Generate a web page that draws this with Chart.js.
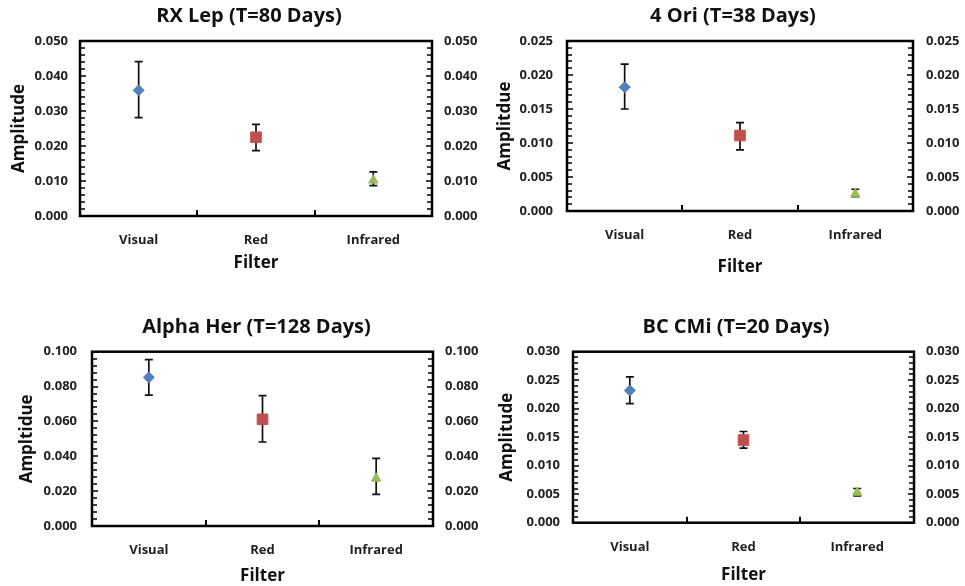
<!DOCTYPE html>
<html><head><meta charset="utf-8">
<script src="https://cdn.jsdelivr.net/npm/chart.js@4.4.0/dist/chart.umd.min.js"></script>
<style>
html,body{margin:0;padding:0;background:#fff;width:965px;height:586px;overflow:hidden;position:relative}
canvas{position:absolute}
</style></head><body>
<canvas id="c1"></canvas><canvas id="c2"></canvas><canvas id="c3"></canvas><canvas id="c4"></canvas>
<script>
// ---- data ----
const categories = ['Visual', 'Red', 'Infrared'];
const chartTitles = ['RX Lep (T=80 Days)', '4 Ori (T=38 Days)', 'Alpha Her (T=128 Days)', 'BC CMi (T=20 Days)'];
const yAxisTitles = ['Amplitude', 'Amplitdue', 'Ampltidue', 'Amplitude'];
const xAxisTitle = 'Filter';

const rxLepAmp  = [0.0359, 0.0225, 0.0102];
const rxLepLow  = [0.0281, 0.0187, 0.0087];
const rxLepHigh = [0.0441, 0.0262, 0.0126];

const oriAmp  = [0.0182, 0.0111, 0.0025];
const oriLow  = [0.0150, 0.0090, 0.0021];
const oriHigh = [0.0216, 0.0130, 0.0032];

const alphaHerAmp  = [0.0853, 0.0612, 0.0273];
const alphaHerLow  = [0.0751, 0.0482, 0.0182];
const alphaHerHigh = [0.0954, 0.0748, 0.0388];

const bcCmiAmp  = [0.0232, 0.0145, 0.0053];
const bcCmiLow  = [0.0209, 0.0131, 0.0047];
const bcCmiHigh = [0.0256, 0.0160, 0.0060];

const yMaxes = [0.05, 0.025, 0.1, 0.03];
const yMajorSteps = [0.01, 0.005, 0.02, 0.005];
const yMinorSteps = [0.002, 0.001, 0.004, 0.001];

// ---- styles / layout ----
const markerStyles = ['rectRot', 'rect', 'triangle'];
const markerColors = ['#4f81bd', '#c0504d', '#9bbb59'];
const FONT = '"Open Sans", "Liberation Sans", sans-serif';
const TEXT = '#222';

const layouts = [
  {id:'c1', L:0,   T:0,   W:498, H:293, yW:80, y2W:66, yPad:12, y2Pad:12, yTitlePad:8.8, tTop:4,    tBot:13,   xH:60, xPad:16, xTitlePad:2.8, padB:17},
  {id:'c2', L:490, T:0,   W:486, H:293, yW:77, y2W:63, yPad:14, y2Pad:13, yTitlePad:5.3, tTop:4.7,  tBot:12.3, xH:66, xPad:16, xTitlePad:0,   padB:16},
  {id:'c3', L:0,   T:300, W:513, H:286, yW:92, y2W:80, yPad:15, y2Pad:12, yTitlePad:17.3,tTop:15,   tBot:12.7, xH:60, xPad:16, xTitlePad:0,   padB:0},
  {id:'c4', L:490, T:300, W:492, H:286, yW:83, y2W:68, yPad:13, y2Pad:12, yTitlePad:7.3, tTop:15.5, tBot:12.2, xH:63, xPad:17, xTitlePad:0.5, padB:0.3}
];

const series = [
  [rxLepAmp, rxLepLow, rxLepHigh],
  [oriAmp, oriLow, oriHigh],
  [alphaHerAmp, alphaHerLow, alphaHerHigh],
  [bcCmiAmp, bcCmiLow, bcCmiHigh]
];

const framePlugin = {
  id: 'frame',
  beforeDatasetsDraw(chart, args, opts) {
    const {ctx, chartArea: a, scales: {x, y}} = chart;
    ctx.save();
    ctx.strokeStyle = '#000';
    // minor ticks on left and right, inward
    ctx.lineWidth = 1.5;
    const n = Math.round(opts.max / opts.minor);
    const per = Math.round(opts.major / opts.minor);
    for (let k = 0; k <= n; k++) {
      const py = Math.round(y.getPixelForValue(k * opts.minor));
      const len = (k % per === 0) ? 6 : 5;
      ctx.beginPath();
      ctx.moveTo(a.left, py); ctx.lineTo(a.left + len, py);
      ctx.moveTo(a.right, py); ctx.lineTo(a.right - len, py);
      ctx.stroke();
    }
    // category boundary ticks on the x axis
    ctx.lineWidth = 2;
    for (let b = 0.5; b < categories.length - 0.5; b += 1) {
      const px = Math.round(x.getPixelForValue(b));
      ctx.beginPath();
      ctx.moveTo(px, a.bottom); ctx.lineTo(px, a.bottom - 6);
      ctx.stroke();
    }
    // frame
    ctx.lineWidth = 2.5;
    ctx.strokeRect(a.left, a.top, a.right - a.left, a.bottom - a.top);
    // error bars
    ctx.strokeStyle = '#111';
    ctx.lineWidth = 1.7;
    opts.low.forEach((lo, i) => {
      const px = x.getPixelForValue(i);
      const pl = y.getPixelForValue(lo);
      const ph = y.getPixelForValue(opts.high[i]);
      ctx.beginPath();
      ctx.moveTo(px, pl); ctx.lineTo(px, ph);
      ctx.moveTo(px - 4, pl); ctx.lineTo(px + 4, pl);
      ctx.moveTo(px - 4, ph); ctx.lineTo(px + 4, ph);
      ctx.stroke();
    });
    ctx.restore();
  }
};

layouts.forEach((lay, p) => {
  const cv = document.getElementById(lay.id);
  cv.width = lay.W; cv.height = lay.H;
  cv.style.left = lay.L + 'px'; cv.style.top = lay.T + 'px';
  cv.style.width = lay.W + 'px'; cv.style.height = lay.H + 'px';
  const [amp, low, high] = series[p];
  const yTicks = {
    stepSize: yMajorSteps[p], color: TEXT,
    font: {family: FONT, size: 13, weight: 'bold'},
    callback: v => Number(v).toFixed(3)
  };
  new Chart(cv, {
    type: 'line',
    data: {
      labels: categories,
      datasets: [{
        data: amp,
        showLine: false,
        pointStyle: markerStyles,
        pointRadius: [5.5, 7.5, 5.5],
        pointHoverRadius: [5.5, 7.5, 5.5],
        pointBackgroundColor: markerColors,
        pointBorderColor: markerColors,
        pointBorderWidth: 1
      }]
    },
    options: {
      responsive: false,
      animation: false,
      devicePixelRatio: 1,
      events: [],
      layout: {padding: {left: 0, right: 0, top: 0, bottom: lay.padB}},
      plugins: {
        legend: {display: false},
        tooltip: {enabled: false},
        title: {
          display: true, text: chartTitles[p], color: '#111',
          font: {family: FONT, size: 20, weight: 'bold'},
          padding: {top: lay.tTop, bottom: lay.tBot}
        },
        frame: {max: yMaxes[p], major: yMajorSteps[p], minor: yMinorSteps[p], low: low, high: high}
      },
      scales: {
        x: {
          type: 'category', offset: true,
          grid: {display: false, drawTicks: false},
          border: {display: false},
          ticks: {color: TEXT, padding: lay.xPad, maxRotation: 0, autoSkip: false,
                  font: {family: FONT, size: 13, weight: 'bold'}},
          title: {display: true, text: xAxisTitle, color: '#111',
                  font: {family: FONT, size: 17, weight: 'bold'},
                  padding: {top: 0, bottom: lay.xTitlePad}},
          afterFit: s => { s.height = lay.xH; }
        },
        y: {
          position: 'left', min: 0, max: yMaxes[p],
          grid: {display: false, drawTicks: false},
          border: {display: false},
          ticks: Object.assign({padding: lay.yPad}, yTicks),
          title: {display: true, text: yAxisTitles[p], color: '#111',
                  font: {family: FONT, size: 17, weight: 'bold'},
                  padding: {top: lay.yTitlePad, bottom: 0}},
          afterFit: s => { s.width = lay.yW; }
        },
        y2: {
          position: 'right', min: 0, max: yMaxes[p],
          grid: {display: false, drawTicks: false},
          border: {display: false},
          ticks: Object.assign({padding: lay.y2Pad}, yTicks),
          afterFit: s => { s.width = lay.y2W; }
        }
      }
    },
    plugins: [framePlugin]
  });
});
</script>
</body></html>
